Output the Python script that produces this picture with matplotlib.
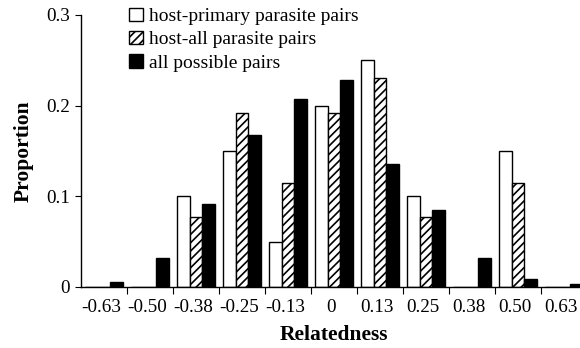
import matplotlib.pyplot as plt
import matplotlib.transforms as mtransforms
import numpy as np

plt.rcParams['font.family'] = ['Liberation Serif', 'DejaVu Serif']
plt.rcParams['hatch.linewidth'] = 1.2

# relatedness classes
labels = ['-0.63', '-0.50', '-0.38', '-0.25', '-0.13', '0', '0.13', '0.25', '0.38', '0.50', '0.63']

# proportions per class
host_primary = [0, 0, 0.100, 0.150, 0.050, 0.200, 0.250, 0.100, 0, 0.150, 0]
host_all = [0, 0, 0.077, 0.192, 0.115, 0.192, 0.231, 0.077, 0, 0.115, 0]
all_pairs = [0.005, 0.032, 0.092, 0.168, 0.207, 0.228, 0.136, 0.085, 0.032, 0.009, 0.003]

fig = plt.figure(figsize=(5.8, 3.48), dpi=100)
ax = fig.add_axes([0.1397, 0.1753, 0.8724, 0.7816])

x = np.arange(len(labels))
w = 0.27
ax.bar(x - w, host_primary, w, color='white', edgecolor='black', linewidth=1,
       label='host-primary parasite pairs')
ax.bar(x, host_all, w, color='white', edgecolor='black', linewidth=1, hatch='////',
       label='host-all parasite pairs')
ax.bar(x + w, all_pairs, w, color='black', edgecolor='black', linewidth=1,
       label='all possible pairs')

ax.set_xlim(-0.5, len(labels) - 0.5)
ax.set_ylim(0, 0.3)
ax.set_yticks([0, 0.1, 0.2, 0.3])
ax.set_yticklabels(['0', '0.1', '0.2', '0.3'])

# ticks at class boundaries, labels at class centres
ax.set_xticks(np.arange(0.5, len(labels) - 1, 1))
ax.set_xticklabels([])
ax.set_xticks(x, minor=True)
ax.set_xticklabels(labels, minor=True)
ax.tick_params(axis='x', which='minor', length=0, pad=9, labelsize=13.8)
ax.tick_params(axis='x', which='major', length=5, direction='out')
ax.tick_params(axis='y', length=4, labelsize=13.8, pad=4)

shift = mtransforms.ScaledTranslation(-3 / 100, 0, fig.dpi_scale_trans)
for t in ax.get_xticklabels(minor=True):
    t.set_transform(t.get_transform() + shift)

for s in ['top', 'right']:
    ax.spines[s].set_visible(False)
ax.spines['left'].set_linewidth(1)
ax.spines['bottom'].set_linewidth(1)

ax.set_xlabel('Relatedness', fontsize=15.5, fontweight='bold', labelpad=6)
ax.set_ylabel('Proportion', fontsize=15.5, fontweight='bold', labelpad=9)

ax.legend(loc='upper left', bbox_to_anchor=(0.08, 1.055), frameon=False, fontsize=14,
          handlelength=0.7, handleheight=0.7, handletextpad=0.3, labelspacing=0.28,
          borderaxespad=0)

fig.savefig('out.png', dpi=100)
